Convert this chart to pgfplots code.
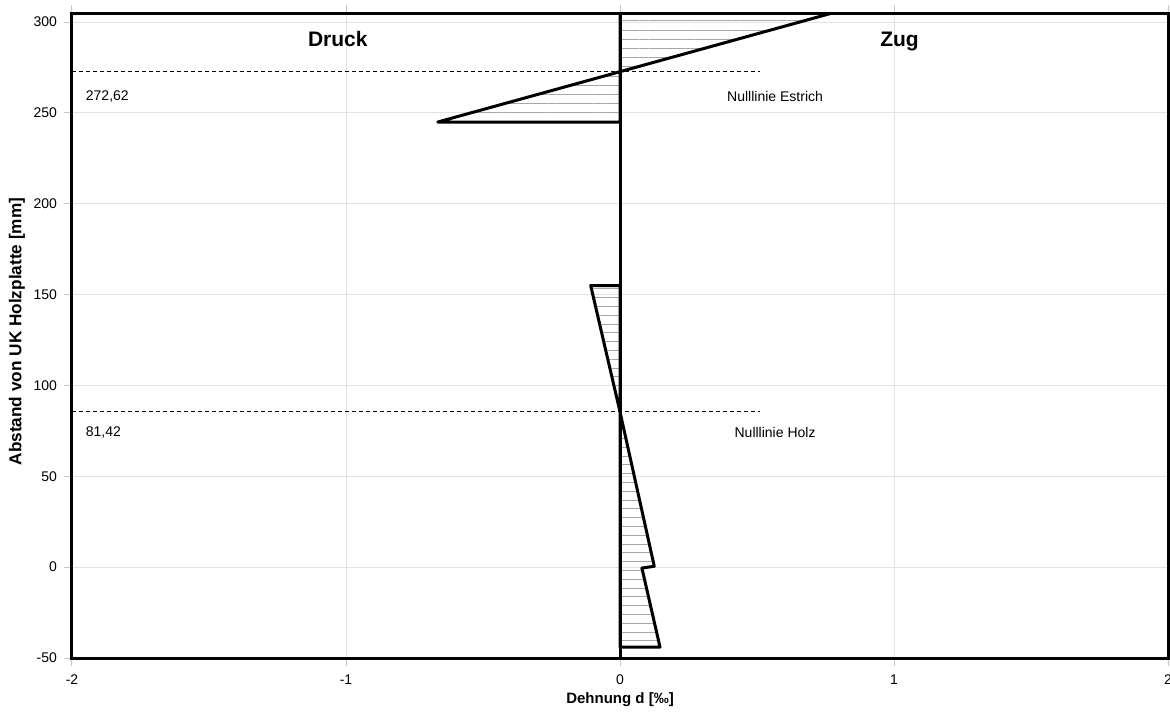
\documentclass[border=0pt]{standalone}
\usepackage{fontspec}
\setmainfont{Liberation Sans}
\usepackage{pgfplots}
\pgfplotsset{compat=1.18}
\usetikzlibrary{patterns.meta}

\begin{document}
\begin{tikzpicture}
\path[use as bounding box] (-36pt,-31pt) rectangle (549pt,329pt);
\begin{axis}[
  at={(0,0)}, anchor=south west,
  scale only axis, width=548pt, height=322.5pt,
  xmin=-2, xmax=2, ymin=-50, ymax=305,
  xtick={-2,-1,0,1,2}, xticklabels={-2,-1,0,1,2},
  ytick={-50,0,50,100,150,200,250,300},
  yticklabels={-50,0,50,100,150,200,250,300},
  grid=major, major grid style={gray!22, line width=0.5pt},
  axis line style={line width=1.5pt},
  tick align=outside, major tick length=4pt,
  tick style={gray!45, line width=0.5pt},
  ticklabel style={font=\fontsize{7}{8}\selectfont},
  xticklabel style={yshift=-1pt},
  xlabel={\textbf{Dehnung d [‰]}},
  ylabel={\textbf{Abstand von UK Holzplatte [mm]}},
  xlabel style={font=\fontsize{7.5}{9}\selectfont, at={(axis description cs:0.5,0)}, anchor=center, yshift=-21pt},
  ylabel style={font=\fontsize{8.6}{10}\selectfont, at={(axis description cs:0,0.5)}, anchor=center, yshift=27.5pt, xshift=2pt},
]
% Estrich
\addplot[draw=black, line width=1.5pt, line join=round,
  pattern={Lines[angle=0,distance=4.6pt,line width=0.5pt]}, pattern color=gray!70]
  coordinates {(0,305) (0.775,305) (-0.665,245) (0,245)} -- cycle;
% Holz
\addplot[draw=black, line width=1.5pt, line join=round,
  pattern={Lines[angle=0,distance=4.4pt,line width=0.5pt]}, pattern color=gray!70]
  coordinates {(0,155) (-0.107,155) (0,85.5) (0.125,0.5) (0.08,-0.5) (0.146,-44) (0,-44)} -- cycle;
% zero line
\addplot[black, line width=1.5pt] coordinates {(0,-50) (0,305)};
% Nulllinien
\addplot[black, line width=0.5pt, dash pattern=on 2pt off 1.5pt] coordinates {(-2,272.62) (0.51,272.62)};
\addplot[black, line width=0.5pt, dash pattern=on 2pt off 1.5pt] coordinates {(-2,85.5) (0.51,85.5)};
\node[anchor=west, font=\fontsize{7}{8}\selectfont] at (axis cs:-1.975,259) {272,62};
\node[anchor=west, font=\fontsize{7}{8}\selectfont] at (axis cs:-1.975,74) {81,42};
\node[font=\fontsize{7}{8}\selectfont] at (axis cs:0.566,259) {Nulllinie Estrich};
\node[font=\fontsize{7}{8}\selectfont] at (axis cs:0.566,74) {Nulllinie Holz};
\node[anchor=base, font=\bfseries\fontsize{10.5}{12}\selectfont] at (axis cs:-1.03,286.5) {Druck};
\node[anchor=base, font=\bfseries\fontsize{10.5}{12}\selectfont] at (axis cs:1.02,286.5) {Zug};
\end{axis}
\end{tikzpicture}
\end{document}
